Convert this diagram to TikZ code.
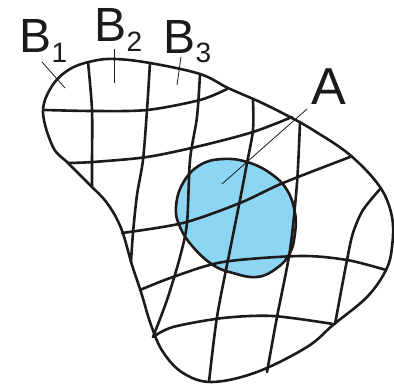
\documentclass[tikz,border=0pt]{standalone}
\usepackage{fontspec}
\setmainfont{Liberation Sans}
\definecolor{blobblue}{RGB}{140,214,244}
\definecolor{ink}{RGB}{30,26,26}
\tikzset{
  gridline/.style={draw=ink, line width=2.6pt, line cap=round, line join=round},
  leader/.style={draw=ink, line width=0.8pt},
  lbl/.style={anchor=base west, inner sep=0pt, text=ink}
}
\begin{document}
\begin{tikzpicture}[x=1pt,y=-1pt]
\useasboundingbox (0,0) rectangle (394,385);
% region A
\filldraw[fill=blobblue, gridline] plot[smooth cycle, tension=0.7] coordinates {
 (176,207) (183,183) (200,165) (223,159) (247,162) (270,173) (287,190) (295,213)
 (295,233) (290,253) (277,268) (257,277) (233,273) (213,265) (193,247) (180,227)};
% outline
\draw[gridline] plot[smooth cycle, tension=0.6] coordinates {
 (43,112) (52,86) (70,69) (93,61) (115,59) (150,63) (200,74) (228,88) (260,102)
 (290,117) (313,130) (350,155) (380,187) (392,217) (392,247) (386,270) (367,297) (333,325)
 (307,347) (257,372) (212,382) (183,373) (163,352) (151,325) (141,292) (132,265)
 (121,228) (107,203) (90,185) (68,163) (53,147)};
% horizontal-ish lines
\draw[gridline] plot[smooth] coordinates {(45,110) (93,111) (147,110) (200,100) (227,89)};
\draw[gridline] plot[smooth] coordinates {(68,163) (93,162) (147,157) (200,146) (253,132) (292,117)};
\draw[gridline] plot[smooth] coordinates {(122,233) (183,223) (240,203) (283,183) (350,157)};
\draw[gridline] plot[smooth] coordinates {(140,290) (173,277) (223,262) (300,256) (347,260) (386,270)};
\draw[gridline] plot[smooth] coordinates {(153,337) (173,327) (223,318) (273,316) (333,324)};
% vertical-ish lines
\draw[gridline] plot[smooth] coordinates {(88,62) (92,110) (92,163) (92,186)};
\draw[gridline] plot[smooth] coordinates {(150,63) (147,110) (143,160) (137,195) (133,233) (131,262)};
\draw[gridline] plot[smooth] coordinates {(200,74) (197,117) (190,160) (187,223) (180,257) (167,300) (153,337)};
\draw[gridline] plot[smooth] coordinates {(253,100) (253,130) (247,163) (240,200) (230,250) (217,317) (209,382)};
\draw[gridline] plot[smooth] coordinates {(300,122) (297,183) (290,250) (277,317) (267,372)};
\draw[gridline] plot[smooth] coordinates {(381,188) (363,210) (353,233) (347,260) (335,324)};
% labels
\node[lbl, font=\fontsize{48}{48}\selectfont] (b1) at (19.5,53) {B\raisebox{-10pt}{\fontsize{28}{28}\selectfont 1}};
\node[lbl, font=\fontsize{48}{48}\selectfont] (b2) at (94.5,42) {B\raisebox{-10pt}{\fontsize{28}{28}\selectfont 2}};
\node[lbl, font=\fontsize{48}{48}\selectfont] (b3) at (163.5,54) {B\raisebox{-9pt}{\fontsize{28}{28}\selectfont 3}};
\node[lbl, font=\fontsize{52}{52}\selectfont] (a) at (311,105) {A};
% leaders
\coordinate (l1a) at (42,62);  \coordinate (l1b) at (65,88);
\coordinate (l2a) at (114,49); \coordinate (l2b) at (114,83);
\coordinate (l3a) at (181,57); \coordinate (l3b) at (177,85);
\coordinate (laa) at (307,109); \coordinate (lab) at (222,184);
\draw[leader] (l1a) -- (l1b);
\draw[leader] (l2a) -- (l2b);
\draw[leader] (l3a) -- (l3b);
\draw[leader] (laa) -- (lab);
\end{tikzpicture}
\end{document}
